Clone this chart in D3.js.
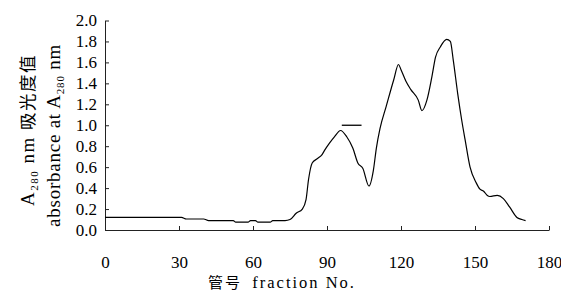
<!DOCTYPE html>
<html>
<head>
<meta charset="utf-8">
<script src="https://cdn.jsdelivr.net/npm/d3@7"></script>
<style>
  body { margin: 0; background: #fff; }
  svg text { font-family: "Liberation Serif", "Times New Roman", serif; }
</style>
</head>
<body>
<div id="area"></div>
<script>
// fraction number vs absorbance at 280 nm
const fraction = [0, 31, 33, 40, 42, 52, 53, 58, 59, 61, 62, 67, 68, 73, 75, 77.5, 80, 81.5, 82.5, 84,
  86, 88, 89, 91, 93, 95.5, 98, 100.5, 102.5, 104.5, 107, 108.8, 110, 111.5, 114, 117, 119, 120,
  122, 124, 127, 128.5, 130.5, 132.5, 134, 136, 138.5, 140, 141.2, 143, 144.6, 146, 148, 150.5,
  152, 153.5, 155, 156, 159, 161.5, 164, 167, 169, 170.5]
const absorbance = [0.12, 0.12, 0.105, 0.105, 0.09, 0.09, 0.075, 0.075, 0.09, 0.09, 0.075, 0.075, 0.09, 0.09, 0.1, 0.16, 0.2, 0.29, 0.48, 0.64,
  0.68, 0.72, 0.76, 0.83, 0.89, 0.95, 0.89, 0.78, 0.64, 0.59, 0.42, 0.57, 0.78, 0.97, 1.18, 1.43, 1.58, 1.53,
  1.42, 1.34, 1.24, 1.14, 1.24, 1.46, 1.65, 1.75, 1.82, 1.8, 1.62, 1.3, 1.05, 0.86, 0.6, 0.45,
  0.39, 0.37, 0.33, 0.32, 0.33, 0.3, 0.22, 0.12, 0.1, 0.09]
// short horizontal bar over the first peak
const barFrom = [96, 1.0]
const barTo = [104, 1.0]
const xTicks = [0, 30, 60, 90, 120, 150, 180]
const yTicks = [0, 0.2, 0.4, 0.6, 0.8, 1.0, 1.2, 1.4, 1.6, 1.8, 2.0]

const width = 561
const height = 296
const margin = {top: 20.5, right: 12, bottom: 66, left: 105}

const x = d3.scaleLinear().domain([0, 180]).range([margin.left, width - margin.right])
const y = d3.scaleLinear().domain([0, 2]).range([height - margin.bottom, margin.top])

const svg = d3.select("#area").append("svg")
  .attr("width", width)
  .attr("height", height)

const xAxis = svg.append("g")
  .attr("transform", `translate(0,${height - margin.bottom})`)
  .call(d3.axisBottom(x).tickValues(xTicks).tickFormat(d3.format("d"))
    .tickSizeInner(-4).tickSizeOuter(0).tickPadding(26))
xAxis.selectAll("text").attr("font-size", 17).attr("fill", "#000")

const yAxis = svg.append("g")
  .attr("transform", `translate(${margin.left},0)`)
  .call(d3.axisLeft(y).tickValues(yTicks).tickFormat(d3.format(".1f"))
    .tickSizeInner(-4).tickSizeOuter(0).tickPadding(8))
yAxis.selectAll("text").attr("font-size", 17).attr("fill", "#000")

svg.selectAll(".domain, .tick line").attr("stroke", "#222")

const pts = fraction.map((f, i) => [f, absorbance[i]])
const line = d3.line().x(d => x(d[0])).y(d => y(d[1])).curve(d3.curveMonotoneX)

svg.append("path")
  .datum(pts)
  .attr("fill", "none")
  .attr("stroke", "#000")
  .attr("stroke-width", 1.2)
  .attr("stroke-linejoin", "round")
  .attr("d", line)

svg.append("line")
  .attr("x1", x(barFrom[0])).attr("x2", x(barTo[0]))
  .attr("y1", y(barFrom[1])).attr("y2", y(barTo[1]))
  .attr("stroke", "#000")
  .attr("stroke-width", 1.3)

// stretch a title with letter spacing until it is as long as in the picture
function fit(sel, target) {
  const n = sel.text().length
  const len = sel.node().getComputedTextLength()
  sel.attr("letter-spacing", Math.max(0, (target - len) / n))
}

// y title, two rotated lines
const t1 = svg.append("text")
  .attr("transform", "translate(34,130) rotate(-90)")
  .attr("text-anchor", "middle")
  .attr("font-size", 19)
t1.append("tspan").text("A")
t1.append("tspan").attr("font-size", 11).attr("dy", 4).text("280")
t1.append("tspan").attr("dy", -4).text(" nm ")
t1.append("tspan").attr("font-family", "Noto Sans CJK SC").attr("font-size", 17.5).text("吸光度值")
fit(t1, 152)

const t2 = svg.append("text")
  .attr("transform", "translate(60,135.5) rotate(-90)")
  .attr("text-anchor", "middle")
  .attr("font-size", 19)
t2.append("tspan").text("absorbance at A")
t2.append("tspan").attr("font-size", 11).attr("dy", 4).text("280")
t2.append("tspan").attr("dy", -4).text(" nm")
fit(t2, 183)

// x title
const t3 = svg.append("text")
  .attr("x", 282).attr("y", 288)
  .attr("text-anchor", "middle")
  .attr("font-size", 16.5)
t3.append("tspan").attr("font-family", "Noto Sans CJK SC").attr("font-size", 15).text("管号")
t3.append("tspan").text("\u2002fraction No.")
fit(t3, 148)
</script>
</body>
</html>
